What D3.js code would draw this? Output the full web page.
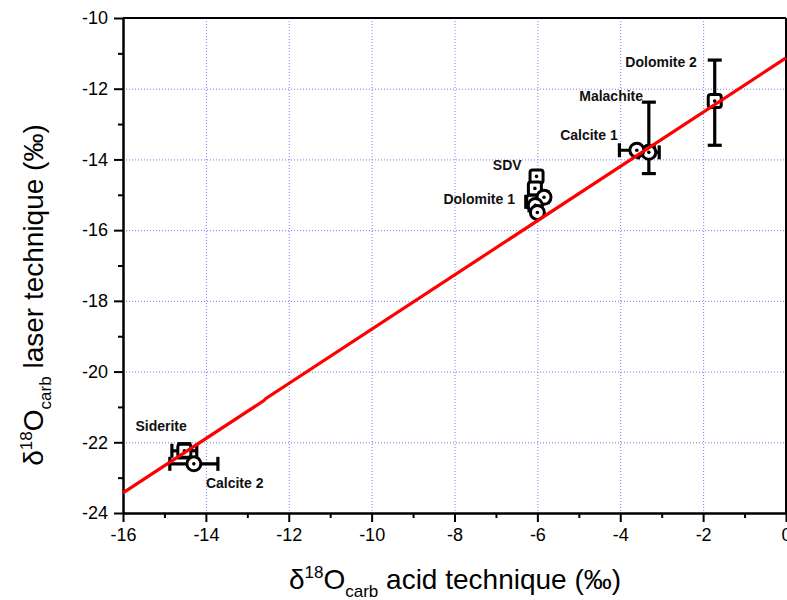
<!DOCTYPE html>
<html><head><meta charset="utf-8">
<script src="https://cdn.jsdelivr.net/npm/d3@7"></script>
<style>body{margin:0;background:#fff}svg{display:block;font-family:"Liberation Sans",Arial,sans-serif}</style>
</head><body>
<script>
// ---- data ----
const names   = ["Dolomite 2","Malachite","Calcite 1","SDV","SDV","SDV","Dolomite 1","Dolomite 1","Dolomite 1","Siderite","Calcite 2"];
const xVals   = [-1.72, -3.31, -3.60, -6.02, -6.06, -6.10, -5.84, -6.05, -6.00, -14.52, -14.29];
const yVals   = [-12.35, -13.80, -13.74, -14.48, -14.82, -15.20, -15.07, -15.30, -15.50, -22.24, -22.61];
const xErr    = [0.08, 0.25, 0.42, 0.05, 0.10, 0.18, 0.10, 0.15, 0.05, 0.30, 0.58];
const yErrUp  = [1.16, 1.42, 0.05, 0.05, 0.08, 0.10, 0.10, 0.10, 0.05, 0.20, 0.05];
const yErrDn  = [1.25, 0.60, 0.05, 0.05, 0.08, 0.10, 0.10, 0.10, 0.05, 0.20, 0.05];
const shapes  = ["square","circle","circle","square","square","square","circle","circle","circle","square","circle"];
const fitX = [-16, -12.6, -12.55, 0];
const fitY = [-23.43, -20.82, -20.76, -11.13];
const xTicks = [-16,-14,-12,-10,-8,-6,-4,-2,0];
const yTicks = [-24,-22,-20,-18,-16,-14,-12,-10];
const xMinor = [-15,-13,-11,-9,-7,-5,-3,-1];
const yMinor = [-23,-21,-19,-17,-15,-13,-11];
const labelText = ["Dolomite 2","Malachite","Calcite 1","SDV","Dolomite 1","Siderite","Calcite 2"];
const labelX    = [-2.15, -3.45, -4.06, -6.38, -6.54, -14.46, -14.0];
const labelY    = [-11.39, -12.35, -13.45, -14.29, -15.25, -21.68, -23.3];
const labelAnchor = ["end","end","end","end","end","end","start"];

// ---- chart ----
const W = 787, H = 600;
const svg = d3.select("body").append("svg").attr("width", W).attr("height", H);
const x = d3.scaleLinear().domain([-16, 0]).range([123, 786]);
const y = d3.scaleLinear().domain([-24, -10]).range([513, 18]);

// grid
const grid = svg.append("g").attr("stroke", "#7a7af5").attr("stroke-width", 1).attr("stroke-dasharray", "1,2");
xTicks.slice(1, -1).forEach(v => grid.append("line").attr("x1", x(v)+0.5).attr("x2", x(v)+0.5).attr("y1", y(-10)).attr("y2", y(-24)));
yTicks.slice(1, -1).forEach(v => grid.append("line").attr("x1", x(-16)).attr("x2", x(0)).attr("y1", y(v)+0.5).attr("y2", y(v)+0.5));

// frame
svg.append("line").attr("x1", x(-16)).attr("x2", x(0)).attr("y1", y(-10)).attr("y2", y(-10)).attr("stroke", "#000").attr("stroke-width", 2);
svg.append("line").attr("x1", x(0)).attr("x2", x(0)).attr("y1", y(-10)).attr("y2", y(-24)).attr("stroke", "#000").attr("stroke-width", 2);

function styleAxis(g){
  g.select(".domain").attr("stroke-width", 2);
  g.selectAll(".tick line").attr("stroke-width", 2);
  g.selectAll("text").attr("font-size", 18).attr("fill", "#000").attr("font-family", '"Liberation Sans",Arial,sans-serif');
}
const gx = svg.append("g").attr("transform", `translate(0,${y(-24)})`)
  .call(d3.axisBottom(x).tickValues(xTicks).tickSize(9).tickPadding(6).tickSizeOuter(0).tickFormat(d3.format("d")));
styleAxis(gx);
const gxm = svg.append("g").attr("transform", `translate(0,${y(-24)})`)
  .call(d3.axisBottom(x).tickValues(xMinor).tickSize(5).tickSizeOuter(0).tickFormat(""));
styleAxis(gxm);
const gy = svg.append("g").attr("transform", `translate(${x(-16)},0)`)
  .call(d3.axisLeft(y).tickValues(yTicks).tickSize(9).tickPadding(6).tickSizeOuter(0).tickFormat(d3.format("d")));
styleAxis(gy);
const gym = svg.append("g").attr("transform", `translate(${x(-16)},0)`)
  .call(d3.axisLeft(y).tickValues(yMinor).tickSize(5).tickSizeOuter(0).tickFormat(""));
styleAxis(gym);
gx.selectAll("text").text(d => d3.format("d")(d).replace("−","-"));
gy.selectAll("text").text(d => d3.format("d")(d).replace("−","-"));

// error bars
const pts = names.map((n, i) => ({n, x: xVals[i], y: yVals[i], xe: xErr[i], yu: yErrUp[i], yd: yErrDn[i], s: shapes[i]}));
const eb = svg.append("g").attr("stroke", "#000").attr("stroke-width", 3.2).attr("fill", "none");
const cap = 7;
pts.forEach(p => {
  const cx = x(p.x), cy = y(p.y);
  const x0 = x(p.x - p.xe), x1 = x(p.x + p.xe);
  const y0 = y(p.y + p.yu), y1 = y(p.y - p.yd);
  eb.append("line").attr("x1", x0).attr("x2", x1).attr("y1", cy).attr("y2", cy);
  eb.append("line").attr("x1", x0).attr("x2", x0).attr("y1", cy-cap).attr("y2", cy+cap);
  eb.append("line").attr("x1", x1).attr("x2", x1).attr("y1", cy-cap).attr("y2", cy+cap);
  eb.append("line").attr("x1", cx).attr("x2", cx).attr("y1", y0).attr("y2", y1);
  eb.append("line").attr("x1", cx-cap).attr("x2", cx+cap).attr("y1", y0).attr("y2", y0);
  eb.append("line").attr("x1", cx-cap).attr("x2", cx+cap).attr("y1", y1).attr("y2", y1);
});

// markers
const mk = svg.append("g");
pts.forEach(p => {
  const cx = x(p.x), cy = y(p.y);
  if (p.s === "square") {
    mk.append("rect").attr("x", cx-6.5).attr("y", cy-6.5).attr("width", 13).attr("height", 13).attr("rx", 2.5)
      .attr("fill", "#fff").attr("stroke", "#000").attr("stroke-width", 3);
  } else {
    mk.append("circle").attr("cx", cx).attr("cy", cy).attr("r", 7)
      .attr("fill", "#fff").attr("stroke", "#000").attr("stroke-width", 3);
  }
  mk.append("circle").attr("cx", cx).attr("cy", cy).attr("r", 1.8).attr("fill", "#000");
});

// fit line
svg.append("path")
  .datum(fitX.map((v, i) => [v, fitY[i]]))
  .attr("d", d3.line().x(d => x(d[0])).y(d => y(d[1])))
  .attr("fill", "none").attr("stroke", "#ff0000").attr("stroke-width", 3.2);

// labels
labelText.forEach((t, i) => {
  svg.append("text").attr("x", x(labelX[i])).attr("y", y(labelY[i]))
    .attr("text-anchor", labelAnchor[i]).attr("font-size", 14).attr("font-weight", "bold").attr("fill", "#111").text(t);
});

// axis titles
function title(sel, main) {
  sel.append("tspan").text("δ");
  sel.append("tspan").attr("font-size", 17).attr("dy", -11).text("18");
  sel.append("tspan").attr("dy", 11).text("O");
  sel.append("tspan").attr("font-size", 17).attr("dy", 8).text("carb");
  sel.append("tspan").attr("dy", -8).text(" " + main + " (‰)");
}
const xt = svg.append("text").attr("x", 455).attr("y", 589).attr("text-anchor", "middle").attr("font-size", 28).attr("fill", "#000");
title(xt, "acid technique");
const yt = svg.append("text").attr("transform", "translate(43,295) rotate(-90)").attr("text-anchor", "middle").attr("font-size", 28).attr("fill", "#000");
title(yt, "laser technique");
</script>
</body></html>
